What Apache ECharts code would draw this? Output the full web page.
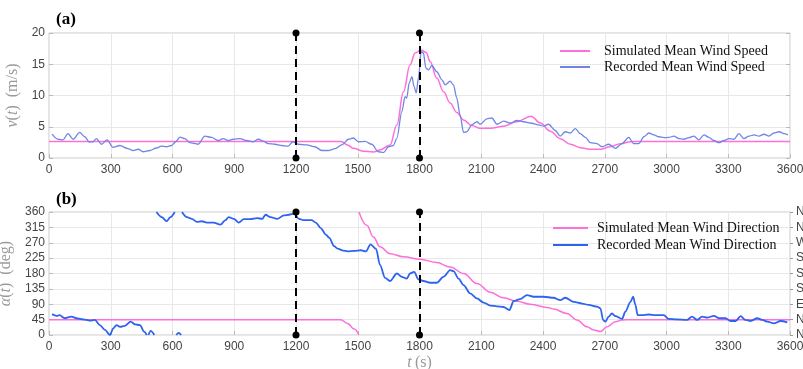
<!DOCTYPE html>
<html>
<head>
<meta charset="utf-8">
<script src="https://cdn.jsdelivr.net/npm/echarts@6/dist/echarts.min.js"></script>
<style>
  html, body { margin: 0; padding: 0; background: #fff; }
  #chart { width: 803px; height: 369px; }
</style>
</head>
<body>
<div id="chart"></div>
<script>
// (a) wind speed, m/s
var recSpeedT = [15, 44, 68, 92, 117, 149, 174, 195, 214, 230, 255, 282, 311, 344, 384, 409, 433, 457, 490, 522, 546, 571, 595, 616, 636, 660, 684, 725, 757, 790, 822, 846, 871, 895, 928, 960, 992, 1017, 1041, 1065, 1098, 1130, 1163, 1184, 1211, 1252, 1292, 1325, 1357, 1390, 1422, 1455, 1479, 1503, 1536, 1568, 1600, 1625, 1649, 1673, 1690, 1714, 1730, 1738, 1750, 1763, 1774, 1784, 1795, 1808, 1819, 1831, 1844, 1860, 1884, 1909, 1925, 1949, 1965, 1981, 1997, 2014, 2030, 2054, 2079, 2095, 2127, 2152, 2176, 2209, 2241, 2273, 2306, 2338, 2379, 2403, 2427, 2460, 2484, 2508, 2533, 2557, 2581, 2606, 2630, 2662, 2687, 2719, 2752, 2784, 2816, 2841, 2865, 2890, 2914, 2938, 2963, 2987, 3011, 3036, 3060, 3084, 3109, 3133, 3157, 3182, 3206, 3230, 3255, 3279, 3303, 3328, 3352, 3376, 3401, 3425, 3449, 3474, 3498, 3522, 3547, 3571, 3590];
var recSpeedV = [3.83, 3.0, 2.9, 3.9, 3.0, 4.1, 3.4, 2.55, 2.6, 3.1, 2.2, 2.9, 1.7, 2.0, 1.5, 1.2, 1.4, 1.0, 1.2, 1.6, 1.9, 1.8, 2.0, 2.6, 3.35, 3.1, 2.45, 2.2, 3.5, 3.3, 2.8, 3.1, 2.8, 3.0, 3.1, 2.8, 2.6, 3.0, 2.7, 2.3, 2.2, 2.0, 1.9, 2.6, 2.2, 2.1, 1.8, 1.2, 1.2, 1.5, 2.1, 3.0, 3.2, 2.6, 2.65, 2.2, 1.0, 0.85, 1.8, 2.0, 3.15, 7.4, 9.8, 9.6, 12.0, 13.0, 11.4, 10.4, 12.8, 17.0, 16.8, 14.4, 14.1, 14.8, 13.8, 12.5, 11.7, 12.3, 11.7, 9.6, 6.9, 4.1, 4.2, 5.3, 5.8, 5.4, 6.25, 6.4, 5.4, 5.9, 5.6, 6.0, 5.8, 5.6, 5.3, 5.1, 5.4, 4.4, 3.5, 4.2, 4.0, 4.7, 3.9, 3.3, 2.45, 2.3, 1.8, 2.2, 1.55, 2.3, 3.3, 2.3, 2.3, 3.4, 4.0, 3.7, 3.4, 3.25, 3.3, 3.5, 3.1, 3.0, 3.25, 3.5, 2.9, 3.7, 3.3, 2.8, 2.45, 2.8, 3.1, 3.0, 3.9, 3.1, 3.5, 3.7, 3.5, 3.8, 3.5, 4.0, 4.2, 3.9, 3.7];

var simSpeedT = [0, 1420, 1450, 1479, 1527, 1576, 1608, 1657, 1690, 1722, 1754, 1779, 1806, 1832, 1852, 1884, 1917, 1949, 1981, 2014, 2054, 2095, 2144, 2209, 2273, 2342, 2387, 2435, 2484, 2533, 2581, 2630, 2679, 2727, 2776, 2825, 2873, 3600];
var simSpeedV = [2.65, 2.65, 2.1, 1.55, 1.1, 0.96, 1.28, 2.1, 5.3, 10.6, 14.9, 16.8, 17.3, 16.9, 15.4, 12.8, 10.6, 8.8, 7.3, 6.1, 5.2, 4.75, 4.75, 5.1, 5.8, 6.7, 5.6, 4.3, 3.1, 2.2, 1.65, 1.4, 1.4, 1.8, 2.3, 2.6, 2.65, 2.65];

// (b) wind direction, deg (null = wrap between 0 and 360)
var recDirT = [15, 36, 52, 76, 109, 133, 166, 198, 223, 247, 272, 296, 312, 328, 345, 369, 397, 418, 442, 462, 475, 478,
  483, 494, 512, 516,
  522, 548, 571, 590, 611, 614,
  618, 630, 642, 644,
  646, 670, 694, 719, 743, 767, 800, 833, 857, 873, 898, 922, 946, 979, 1011, 1036, 1052, 1076, 1109, 1141, 1166, 1190, 1215, 1236, 1276, 1296, 1320, 1345, 1361, 1385, 1402, 1430, 1450, 1483, 1515, 1540, 1562, 1589, 1608, 1633, 1657, 1690, 1714, 1738, 1754, 1774, 1795, 1819, 1852, 1884, 1916, 1949, 1965, 1990, 2014, 2046, 2079, 2111, 2144, 2176, 2208, 2237, 2257, 2289, 2322, 2354, 2403, 2451, 2484, 2508, 2549, 2590, 2622, 2663, 2679, 2692, 2703, 2719, 2735, 2752, 2784, 2800, 2825, 2838, 2849, 2860, 2881, 2914, 2946, 2987, 3011, 3052, 3100, 3124, 3149, 3173, 3198, 3230, 3255, 3287, 3311, 3336, 3360, 3384, 3408, 3441, 3466, 3490, 3522, 3554, 3587];
var recDirV = [61, 56, 58, 49, 54, 49, 46, 42, 44, 29, 15, 0, 19, 29, 24, 27, 39, 31, 29, 10, 0, null,
  0, 12, 0, null,
  360, 345, 333, 345, 360, null,
  0, 6, 0, null,
  360, 345, 340, 331, 333, 329, 329, 323, 336, 345, 340, 329, 339, 339, 342, 340, 352, 345, 340, 350, 352, 355, 340, 336, 336, 329, 313, 294, 285, 260, 253, 247, 245, 246, 248, 245, 265, 252, 205, 167, 158, 180, 170, 165, 180, 185, 163, 158, 153, 153, 170, 190, 187, 165, 146, 122, 107, 95, 86, 84, 82, 73, 99, 105, 117, 112, 112, 109, 102, 109, 97, 92, 88, 83, 78, 44, 39, 54, 63, 55, 47, 68, 97, 112, 88, 58, 58, 60, 58, 58, 47, 46, 44, 54, 44, 54, 51, 56, 49, 49, 41, 41, 55, 44, 41, 49, 44, 39, 34, 41, 37];

var simDirT = [0, 1418, 1450, 1483, 1505, 1505.5,
  1506, 1544, 1576, 1608, 1657, 1722, 1803, 1884, 1949, 2014, 2079, 2144, 2208, 2273, 2338, 2427, 2451, 2516, 2565, 2614, 2646, 2679, 2711, 2752, 2784, 2820, 3600];
var simDirV = [45, 45, 34, 17.5, 0, null,
  360, 321, 287, 258, 238, 229, 222, 212, 199, 180, 151, 125, 109, 99, 90, 80, 76, 63, 44, 24, 15, 10, 24, 39, 44, 45, 45];

var timeTicks = [0, 3600, 300];
var dirNames = ['N', 'NE', 'E', 'SE', 'S', 'SW', 'W', 'NW', 'N'];

function zip(t, v) {
  var out = [];
  for (var i = 0; i < t.length; ++i) {
    out.push([t[i], v[i]]);
  }
  return out;
}

var myChart = echarts.init(document.getElementById('chart'));

var pink = '#ff6fd9';
var lightBlue = '#6f86e6';
var darkBlue = '#2d63ee';
var tickFont = {fontFamily: 'Liberation Sans', fontSize: 12, color: '#444'};
var nameRich = {
  i: {fontFamily: 'Liberation Serif', fontStyle: 'italic', fontSize: 16, color: '#9a9a9a'},
  n: {fontFamily: 'Liberation Serif', fontSize: 16, color: '#9a9a9a'}
};
var plain = function(v) { return String(v); };

var dashLine = {
  silent: true,
  symbol: ['circle', 'circle'],
  symbolSize: 7,
  label: {show: false},
  lineStyle: {color: '#000', type: [8, 5], width: 2},
  data: [{xAxis: 1200}, {xAxis: 1800}]
};

function xAxisFor(gridIndex, withName) {
  var ax = {
    type: 'value',
    gridIndex: gridIndex,
    min: timeTicks[0],
    max: timeTicks[1],
    interval: timeTicks[2],
    axisLine: {show: false},
    axisTick: {show: true, inside: true, length: 4, lineStyle: {color: '#bbb'}},
    axisLabel: Object.assign({margin: 6, formatter: plain}, tickFont),
    splitLine: {show: true, lineStyle: {color: '#e8e8e8'}}
  };
  if (withName) {
    ax.name = '{i|t} {n|(s)}';
    ax.nameLocation = 'middle';
    ax.nameGap = 20;
    ax.nameTextStyle = {rich: nameRich};
  }
  return ax;
}

var option = {
  animation: false,
  title: [
    {text: '(a)', left: 51, top: 6, textStyle: {fontFamily: 'Liberation Serif', fontWeight: 'bold', fontSize: 17, color: '#000'}},
    {text: '(b)', left: 51, top: 186, textStyle: {fontFamily: 'Liberation Serif', fontWeight: 'bold', fontSize: 17, color: '#000'}}
  ],
  legend: [
    {
      orient: 'vertical',
      left: 560,
      top: 44,
      padding: 0,
      itemWidth: 30,
      itemHeight: 2,
      itemGap: 2,
      icon: 'rect',
      data: ['Simulated Mean Wind Speed', 'Recorded Mean Wind Speed'],
      textStyle: {fontFamily: 'Liberation Serif', fontSize: 14, color: '#111', padding: [0, 0, 0, 9]}
    },
    {
      orient: 'vertical',
      left: 553,
      top: 221,
      padding: 0,
      itemWidth: 35,
      itemHeight: 2,
      itemGap: 3,
      icon: 'rect',
      data: ['Simulated Mean Wind Direction', 'Recorded Mean Wind Direction'],
      textStyle: {fontFamily: 'Liberation Serif', fontSize: 14, color: '#111', padding: [0, 0, 0, 4]}
    }
  ],
  grid: [
    {left: 49, top: 33, width: 741, height: 125, outerBoundsMode: 'none', show: true, borderColor: '#c8c8c8', borderWidth: 1, backgroundColor: '#fff'},
    {left: 49, top: 212, width: 741, height: 123, outerBoundsMode: 'none', show: true, borderColor: '#c8c8c8', borderWidth: 1, backgroundColor: '#fff'}
  ],
  xAxis: [xAxisFor(0, false), xAxisFor(1, true)],
  yAxis: [
    {
      type: 'value', gridIndex: 0, min: 0, max: 20, interval: 5,
      name: '{i|v}{n|(}{i|t}{n|)  (m/s)}', nameLocation: 'middle', nameGap: 18,
      nameTextStyle: {rich: nameRich},
      axisLine: {show: false},
      axisTick: {show: true, inside: true, length: 4, lineStyle: {color: '#bbb'}},
      axisLabel: Object.assign({margin: 4}, tickFont),
      splitLine: {show: true, lineStyle: {color: '#e8e8e8'}}
    },
    {
      type: 'value', gridIndex: 0, min: 0, max: 20, interval: 5, position: 'right',
      axisLine: {show: false},
      axisTick: {show: true, inside: true, length: 4, lineStyle: {color: '#bbb'}},
      axisLabel: {show: false},
      splitLine: {show: false}
    },
    {
      type: 'value', gridIndex: 1, min: 0, max: 360, interval: 45,
      name: '{i|α}{n|(}{i|t}{n|)  (deg)}', nameLocation: 'middle', nameGap: 27,
      nameTextStyle: {rich: nameRich},
      axisLine: {show: false},
      axisTick: {show: true, inside: true, length: 4, lineStyle: {color: '#bbb'}},
      axisLabel: Object.assign({margin: 4}, tickFont),
      splitLine: {show: true, lineStyle: {color: '#e8e8e8'}}
    },
    {
      type: 'value', gridIndex: 1, min: 0, max: 360, interval: 45, position: 'right',
      axisLine: {show: false},
      axisTick: {show: true, inside: false, length: 3, lineStyle: {color: '#999'}},
      axisLabel: Object.assign({margin: 6, formatter: function(v) { return dirNames[Math.round(v / 45)]; }}, tickFont),
      splitLine: {show: false}
    }
  ],
  series: [
    {
      name: 'Simulated Mean Wind Speed',
      type: 'line',
      xAxisIndex: 0, yAxisIndex: 0,
      data: zip(simSpeedT, simSpeedV),
      showSymbol: false,
      smooth: 0.4,
      smoothMonotone: 'x',
      color: pink,
      lineStyle: {width: 1.5, color: pink}
    },
    {
      name: 'Recorded Mean Wind Speed',
      type: 'line',
      xAxisIndex: 0, yAxisIndex: 0,
      data: zip(recSpeedT, recSpeedV),
      showSymbol: false,
      smooth: 0.3,
      smoothMonotone: 'x',
      color: lightBlue,
      lineStyle: {width: 1.3, color: lightBlue},
      markLine: dashLine
    },
    {
      name: 'Simulated Mean Wind Direction',
      type: 'line',
      xAxisIndex: 1, yAxisIndex: 2,
      data: zip(simDirT, simDirV),
      showSymbol: false,
      smooth: 0.4,
      smoothMonotone: 'x',
      connectNulls: false,
      color: pink,
      lineStyle: {width: 1.5, color: pink}
    },
    {
      name: 'Recorded Mean Wind Direction',
      type: 'line',
      xAxisIndex: 1, yAxisIndex: 2,
      data: zip(recDirT, recDirV),
      showSymbol: false,
      smooth: 0.3,
      smoothMonotone: 'x',
      connectNulls: false,
      color: darkBlue,
      lineStyle: {width: 1.8, color: darkBlue},
      markLine: dashLine
    }
  ]
};

myChart.setOption(option);
</script>
</body>
</html>
